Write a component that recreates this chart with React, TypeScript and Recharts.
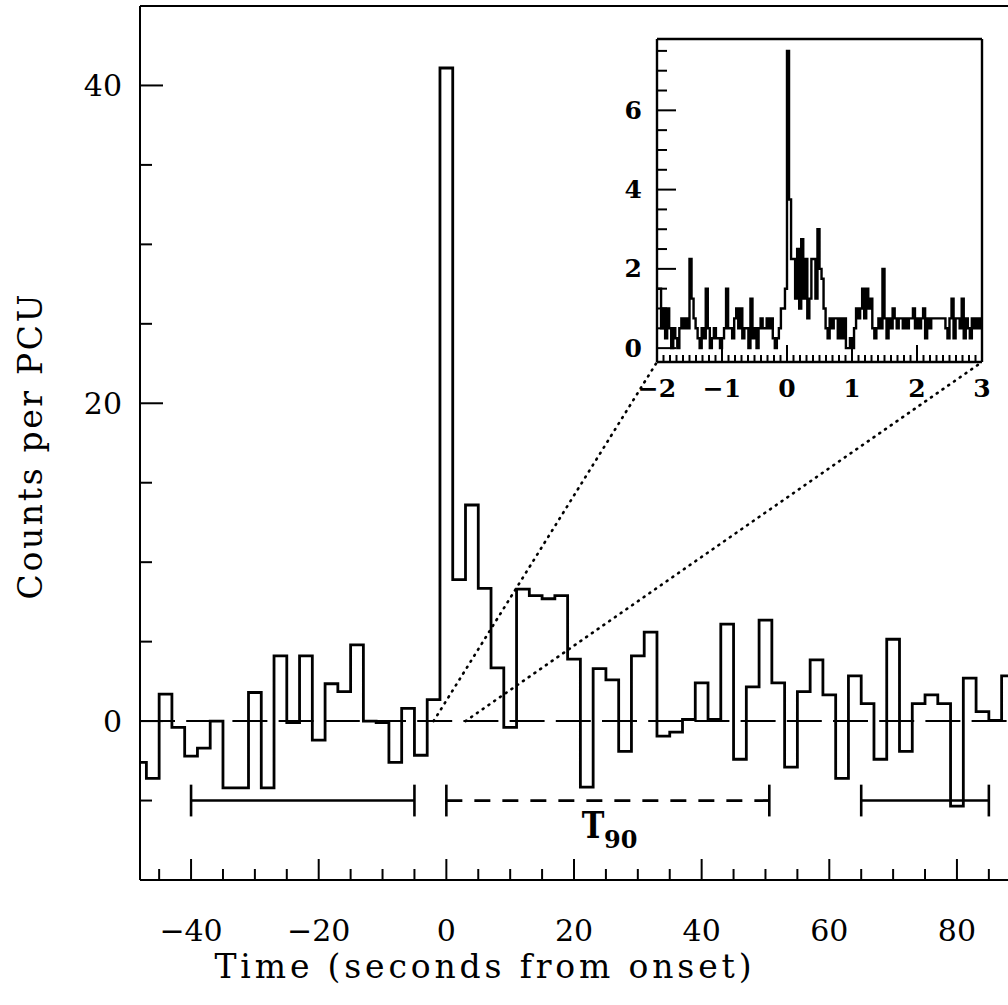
import React from 'react';
import { LineChart, Line, XAxis, YAxis, ReferenceLine } from 'recharts';

// ---------- main light curve (2 s bins) ----------
const mainBinCenters = [
  -48, -46, -44, -42, -40, -38, -36, -34, -32, -30, -28, -26, -24, -22, -20, -18, -16, -14, -12, -10,
  -8, -6, -4, -2, 0, 2, 4, 6, 8, 10, 12, 14, 16, 18, 20, 22, 24, 26, 28, 30, 32, 34, 36, 38, 40, 42,
  44, 46, 48, 50, 52, 54, 56, 58, 60, 62, 64, 66, 68, 70, 72, 74, 76, 78, 80, 82, 84, 86, 88,
];
const mainCounts = [
  -2.6, -3.6, 1.7, -0.4, -2.2, -1.7, 0.0, -4.2, -4.2, 1.8, -4.2, 4.1, -0.1, 4.1, -1.2, 2.35, 1.85, 4.8, 0.0, -0.1,
  -2.6, 0.8, -2.15, 1.35, 41.1, 8.9, 13.6, 8.35, 3.35, -0.4, 8.3, 7.9, 7.7, 7.9, 3.9, -4.15, 3.3, 2.6, -1.9, 4.1,
  5.6, -0.95, -0.7, 0.1, 2.4, 0.1, 6.1, -2.4, 2.15, 6.35, 2.4, -2.9, 1.85, 3.85, 1.65, -3.6, 2.85, 1.1, -2.4, 5.15,
  -1.9, 1.1, 1.65, 1.1, -5.35, 2.7, 0.6, 0.05, 2.85,
];
const mainBinWidth = 2;
const mainXDomain = [-48, 88];
const mainYDomain = [-10, 45];
const mainXTickLabels = [-40, -20, 0, 20, 40, 60, 80];
const mainYTickLabels = [0, 20, 40];
const backgroundIntervals = [
  [-40, -5],
  [65, 85],
];
const t90Interval = [0, 50.6];
const intervalLevel = -5;

// ---------- inset (1/32 s bins, -2 .. 3 s) ----------
const insetStart = -2;
const insetBinWidth = 1 / 32;
const insetCounts = [
  // -2 .. -1
  1.5, 1.5, 0.5, 1.0, 0.25, 1.0, 0.5, 0, 0.5, 0.25, 0, 0.5, 0.75, 0.5, 0.75, 0.5,
  2.25, 1.25, 0.75, 0.5, 0.25, 0, 0.5, 0.25, 1.5, 0.5, 0, 0.25, 0.5, 0.25, 0.25, 0,
  // -1 .. 0
  0.25, 0.5, 1.5, 0.5, 0.5, 0.25, 0.75, 1.0, 0.5, 1.0, 0.25, 0.5, 0.5, 0, 1.25, 0.25,
  0.5, 0, 0.5, 0.75, 0.5, 0.5, 0.75, 0.5, 0.75, 0.25, 0, 0.25, 0.5, 1.0, 1.0, 1.5,
  // 0 .. 1
  7.5, 3.75, 2.25, 2.25, 1.25, 2.5, 1.0, 2.75, 1.25, 2.25, 0.75, 1.25, 2.25, 2.25, 1.25, 3.0,
  2.0, 1.75, 1.0, 0.5, 0.25, 0.75, 0.5, 0.75, 0.75, 0.25, 0.75, 0.25, 0.75, 0, 0, 0.25,
  // 1 .. 2
  0, 0.5, 1.0, 0.75, 1.0, 1.5, 0.75, 1.5, 1.0, 1.25, 0.5, 0.25, 0.5, 0.75, 0.5, 2.0,
  0.75, 0.25, 0.75, 0.5, 1.0, 0.75, 0.5, 0.75, 0.75, 0.5, 0.75, 0.5, 0.75, 0.75, 1.0, 0.5,
  // 2 .. 3
  0.75, 0.5, 0.75, 1.0, 0.25, 0.75, 0.5, 0.75, 0.75, 0.75, 0.75, 0.75, 0.75, 0.75, 0.5, 0.25,
  0.75, 1.25, 0.25, 0.75, 0.75, 0.5, 1.25, 0.25, 0.75, 0.5, 0.25, 0.75, 0.5, 0.75, 0.5, 0.75,
];
const insetXDomain = [-2, 3];
const insetYDomain = [-0.35, 7.8];
const insetXTickLabels = [-2, -1, 0, 1, 2, 3];
const insetYTickLabels = [0, 2, 4, 6];

// ---------- derived tables ----------
const mainData = mainBinCenters.map((c, i) => ({ t: c - mainBinWidth / 2, v: mainCounts[i] }));
mainData.push({
  t: mainBinCenters[mainBinCenters.length - 1] + mainBinWidth / 2,
  v: mainCounts[mainCounts.length - 1],
});

const insetData = insetCounts.map((v, i) => ({ t: insetStart + i * insetBinWidth, v }));
insetData.push({ t: insetStart + insetCounts.length * insetBinWidth, v: insetCounts[insetCounts.length - 1] });

// ---------- layout ----------
const W = 1008;
const H = 1005;
const MAIN = { left: 140, right: 1008, top: 6, bottom: 880 };
const INSET_BOX = { left: 600, top: 30, width: 400, height: 380 };
const INSET = { left: 657, right: 982, top: 39, bottom: 362 };

const FONT = '"DejaVu Serif", serif';

const mainTFromPx = (px: number) =>
  mainXDomain[0] + ((px - MAIN.left) / (MAIN.right - MAIN.left)) * (mainXDomain[1] - mainXDomain[0]);
const mainVFromPy = (py: number) =>
  mainYDomain[1] - ((py - MAIN.top) / (MAIN.bottom - MAIN.top)) * (mainYDomain[1] - mainYDomain[0]);

const mainXTicks = Array.from({ length: 27 }, (_, i) => -45 + 5 * i);
const mainYTicks = Array.from({ length: 10 }, (_, i) => -5 + 5 * i);
const insetXTicks = Array.from({ length: 51 }, (_, i) => Math.round((insetXDomain[0] + i * 0.1) * 10) / 10);
const insetYTicks = Array.from({ length: 16 }, (_, i) => i * 0.5);

const fmt = (v: number) => (v < 0 ? '\u2212' + Math.abs(v) : String(v));

function MainXTick(props: any) {
  const { x, y, payload } = props;
  const v = payload.value;
  const major = mainXTickLabels.includes(v);
  return (
    <g>
      <line x1={x} x2={x} y1={y} y2={y - (major ? 21 : 11)} stroke="#000" strokeWidth={2} />
      {major && (
        <text x={x} y={y + 50} textAnchor="middle" dominantBaseline="central" fontFamily={FONT} fontSize={30} fill="#000">
          {fmt(v)}
        </text>
      )}
    </g>
  );
}

function MainYTick(props: any) {
  const { x, y, payload } = props;
  const v = payload.value;
  const major = mainYTickLabels.includes(v);
  return (
    <g>
      <line x1={x} x2={x + (major ? 23 : 12)} y1={y} y2={y} stroke="#000" strokeWidth={2} />
      {major && (
        <text x={x - 18} y={y} textAnchor="end" dominantBaseline="central" fontFamily={FONT} fontSize={30} fill="#000">
          {fmt(v)}
        </text>
      )}
    </g>
  );
}

function InsetXTick(props: any) {
  const { x, y, payload } = props;
  const v = payload.value;
  const major = insetXTickLabels.includes(v);
  return (
    <g>
      <line x1={x} x2={x} y1={y} y2={y - (major ? 17 : 7)} stroke="#000" strokeWidth={2} />
      {major && (
        <text x={x} y={y + 26} textAnchor="middle" dominantBaseline="central" fontFamily={FONT} fontWeight="bold" fontSize={25} fill="#000">
          {fmt(v)}
        </text>
      )}
    </g>
  );
}

function InsetYTick(props: any) {
  const { x, y, payload } = props;
  const v = payload.value;
  const major = insetYTickLabels.includes(v);
  return (
    <g>
      <line x1={x} x2={x + (major ? 19 : 10)} y1={y} y2={y} stroke="#000" strokeWidth={2} />
      {major && (
        <text x={x - 15} y={y} textAnchor="end" dominantBaseline="central" fontFamily={FONT} fontWeight="bold" fontSize={25} fill="#000">
          {fmt(v)}
        </text>
      )}
    </g>
  );
}

const XTitle = () => (
  <text x={483} y={966} textAnchor="middle" dominantBaseline="central" fontFamily={FONT} fontSize={33} fill="#000" textLength={537} lengthAdjust="spacing">
    Time (seconds from onset)
  </text>
);

const YTitle = () => (
  <text
    x={30}
    y={447}
    transform="rotate(-90, 30, 447)"
    textAnchor="middle"
    dominantBaseline="central"
    fontFamily={FONT}
    fontSize={33}
    fill="#000"
    textLength={305}
    lengthAdjust="spacing"
  >
    Counts per PCU
  </text>
);

const T90Label = () => (
  <g>
    <text transform="translate(593,838) scale(0.8,1)" textAnchor="middle" fontFamily={FONT} fontWeight="bold" fontSize={38} fill="#000">
      T
    </text>
    <text x={604} y={848} fontFamily={FONT} fontWeight="bold" fontSize={24} fill="#000">
      90
    </text>
  </g>
);

export default function App() {
  const cornerVal = mainVFromPy(INSET.bottom);
  const leftCornerT = mainTFromPx(INSET.left);
  const rightCornerT = mainTFromPx(INSET.right);
  const capHalf = 1;

  return (
    <div style={{ position: 'absolute', left: 0, top: 0, width: W, height: H, background: '#fff' }}>
      <LineChart
        width={W}
        height={H}
        data={mainData}
        margin={{ top: MAIN.top, right: W - MAIN.right, bottom: 0, left: MAIN.left - 60 }}
      >
        <XAxis
          dataKey="t"
          type="number"
          domain={mainXDomain}
          allowDataOverflow
          ticks={mainXTicks}
          interval={0}
          height={H - MAIN.bottom}
          tickSize={0}
          tickMargin={0}
          tickLine={false}
          axisLine={{ stroke: '#000', strokeWidth: 2 }}
          tick={<MainXTick />}
          label={{ content: XTitle }}
        />
        <YAxis
          type="number"
          domain={mainYDomain}
          allowDataOverflow
          ticks={mainYTicks}
          interval={0}
          width={60}
          tickSize={0}
          tickMargin={0}
          tickLine={false}
          axisLine={{ stroke: '#000', strokeWidth: 2 }}
          tick={<MainYTick />}
          label={{ content: YTitle }}
        />
        <ReferenceLine y={mainYDomain[1]} stroke="#000" strokeWidth={2} />
        <ReferenceLine y={0} stroke="#000" strokeWidth={2} strokeDasharray="35 11.2" />
        <ReferenceLine
          segment={[{ x: insetXDomain[0], y: 0 }, { x: leftCornerT, y: cornerVal }]}
          stroke="#000"
          strokeWidth={2.6}
          strokeDasharray="1 6"
          strokeLinecap="round"
        />
        <ReferenceLine
          segment={[{ x: insetXDomain[1], y: 0 }, { x: rightCornerT, y: cornerVal }]}
          stroke="#000"
          strokeWidth={2.6}
          strokeDasharray="1 6"
          strokeLinecap="round"
        />
        {backgroundIntervals.map(([a, b], i) => (
          <ReferenceLine
            key={'bg' + i}
            segment={[{ x: a, y: intervalLevel }, { x: b, y: intervalLevel }]}
            stroke="#000"
            strokeWidth={2.6}
          />
        ))}
        {backgroundIntervals.flat().map((e, i) => (
          <ReferenceLine
            key={'bgc' + i}
            segment={[{ x: e, y: intervalLevel - capHalf }, { x: e, y: intervalLevel + capHalf }]}
            stroke="#000"
            strokeWidth={2.6}
          />
        ))}
        <ReferenceLine
          segment={[{ x: t90Interval[0], y: intervalLevel }, { x: t90Interval[1], y: intervalLevel }]}
          stroke="#000"
          strokeWidth={2.8}
          strokeDasharray="16 12"
          label={{ content: T90Label }}
        />
        {t90Interval.map((e, i) => (
          <ReferenceLine
            key={'t90c' + i}
            segment={[{ x: e, y: intervalLevel - capHalf }, { x: e, y: intervalLevel + capHalf }]}
            stroke="#000"
            strokeWidth={2.6}
          />
        ))}
        <Line
          dataKey="v"
          type="stepAfter"
          stroke="#000"
          strokeWidth={2.8}
          dot={false}
          activeDot={false}
          isAnimationActive={false}
        />
      </LineChart>

      <div style={{ position: 'absolute', left: INSET_BOX.left, top: INSET_BOX.top }}>
        <LineChart
          width={INSET_BOX.width}
          height={INSET_BOX.height}
          data={insetData}
          margin={{
            top: INSET.top - INSET_BOX.top,
            right: INSET_BOX.left + INSET_BOX.width - INSET.right,
            bottom: 0,
            left: 0,
          }}
        >
          <XAxis
            dataKey="t"
            type="number"
            domain={insetXDomain}
            allowDataOverflow
            ticks={insetXTicks}
            interval={0}
            height={INSET_BOX.top + INSET_BOX.height - INSET.bottom}
            tickSize={0}
            tickMargin={0}
            tickLine={false}
            axisLine={{ stroke: '#000', strokeWidth: 2.4 }}
            tick={<InsetXTick />}
          />
          <YAxis
            type="number"
            domain={insetYDomain}
            allowDataOverflow
            ticks={insetYTicks}
            interval={0}
            width={INSET.left - INSET_BOX.left}
            tickSize={0}
            tickMargin={0}
            tickLine={false}
            axisLine={{ stroke: '#000', strokeWidth: 2.4 }}
            tick={<InsetYTick />}
          />
          <ReferenceLine y={insetYDomain[1]} stroke="#000" strokeWidth={2.4} />
          <ReferenceLine x={insetXDomain[1]} stroke="#000" strokeWidth={2.4} />
          <Line
            dataKey="v"
            type="stepAfter"
            stroke="#000"
            strokeWidth={2.4}
            dot={false}
            activeDot={false}
            isAnimationActive={false}
          />
        </LineChart>
      </div>
    </div>
  );
}
